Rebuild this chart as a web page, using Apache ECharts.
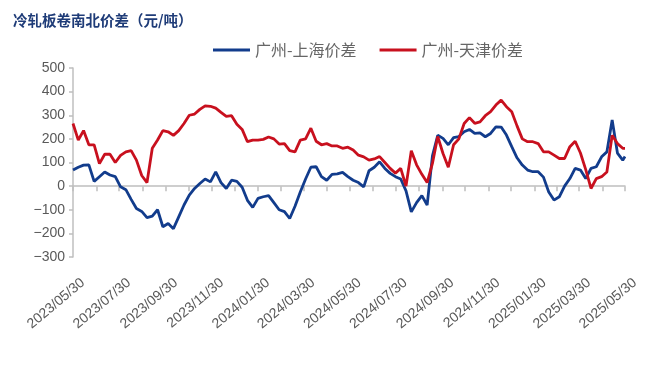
<!DOCTYPE html>
<html>
<head>
<meta charset="utf-8">
<script src="https://cdn.jsdelivr.net/npm/echarts@6/dist/echarts.min.js"></script>
<style>
html,body{margin:0;padding:0;background:#fff;}
#chart{width:660px;height:382px;}
</style>
</head>
<body>
<div id="chart"></div>
<script>
// Weekly observation dates
const dates = [
'2023-05-30','2023-06-06','2023-06-13','2023-06-20','2023-06-27','2023-07-04','2023-07-11','2023-07-18','2023-07-25','2023-08-01',
'2023-08-08','2023-08-15','2023-08-22','2023-08-29','2023-09-05','2023-09-12','2023-09-19','2023-09-26','2023-10-03','2023-10-10',
'2023-10-17','2023-10-24','2023-10-31','2023-11-07','2023-11-14','2023-11-21','2023-11-28','2023-12-05','2023-12-12','2023-12-19',
'2023-12-26','2024-01-02','2024-01-09','2024-01-16','2024-01-23','2024-01-30','2024-02-06','2024-02-13','2024-02-20','2024-02-27',
'2024-03-05','2024-03-12','2024-03-19','2024-03-26','2024-04-02','2024-04-09','2024-04-16','2024-04-23','2024-04-30','2024-05-07',
'2024-05-14','2024-05-21','2024-05-28','2024-06-04','2024-06-11','2024-06-18','2024-06-25','2024-07-02','2024-07-09','2024-07-16',
'2024-07-23','2024-07-30','2024-08-06','2024-08-13','2024-08-20','2024-08-27','2024-09-03','2024-09-10','2024-09-17','2024-09-24',
'2024-10-01','2024-10-08','2024-10-15','2024-10-22','2024-10-29','2024-11-05','2024-11-12','2024-11-19','2024-11-26','2024-12-03',
'2024-12-10','2024-12-17','2024-12-24','2024-12-31','2025-01-07','2025-01-14','2025-01-21','2025-01-28','2025-02-04','2025-02-11',
'2025-02-18','2025-02-25','2025-03-04','2025-03-11','2025-03-18','2025-03-25','2025-04-01','2025-04-08','2025-04-15','2025-04-22',
'2025-04-29','2025-05-06','2025-05-13','2025-05-20','2025-05-27','2025-05-30'
];

// 广州-上海价差 (元/吨)
const gzShanghai = [
68,80,89,90,20,40,60,47,40,-3,
-15,-56,-95,-107,-133,-127,-100,-172,-158,-180,
-130,-80,-38,-10,11,30,18,60,15,-10,
25,20,-5,-60,-90,-52,-45,-40,-70,-100,
-108,-137,-85,-25,30,80,82,40,25,50,
52,58,40,25,15,-3,65,80,103,75,
54,40,30,-20,-109,-70,-40,-80,128,215,
202,175,205,210,230,240,223,225,209,223,
251,250,216,167,120,89,68,61,61,38,
-25,-59,-45,0,32,75,68,32,75,82,
124,145,280,140,110,125
];

// 广州-天津价差 (元/吨)
const gzTianjin = [
265,195,235,175,175,95,135,135,100,130,
145,150,110,45,15,160,195,235,230,215,
235,265,300,305,325,340,338,330,312,295,
298,262,240,188,195,195,198,208,200,178,
180,150,145,195,200,245,190,175,180,170,
170,160,165,153,131,124,110,115,125,100,
75,55,75,0,150,90,50,15,96,210,
138,80,175,200,265,290,266,272,298,315,
343,364,336,315,255,200,188,188,180,145,
145,131,117,117,167,190,140,70,-10,32,
40,60,215,180,160,160
];

// Axis tick / label dates
const xLabelDates = [
'2023-05-30','2023-07-30','2023-09-30','2023-11-30','2024-01-30','2024-03-30','2024-05-30',
'2024-07-30','2024-09-30','2024-11-30','2025-01-30','2025-03-30','2025-05-30'
];
const xTickDates = [
'2023-05-30','2023-06-30','2023-07-30','2023-08-30','2023-09-30','2023-10-30','2023-11-30','2023-12-30',
'2024-01-30','2024-02-29','2024-03-30','2024-04-30','2024-05-30','2024-06-30','2024-07-30','2024-08-30',
'2024-09-30','2024-10-30','2024-11-30','2024-12-30','2025-01-30','2025-02-28','2025-03-30','2025-04-30','2025-05-30'
];
const yMin = -300, yMax = 500, yStep = 100;
const seriesNames = ['广州-上海价差', '广州-天津价差'];

function ts(s) { const p = s.split('-').map(Number); return new Date(p[0], p[1] - 1, p[2]).getTime(); }
function fmt(v) {
  const d = new Date(v);
  const mm = String(d.getMonth() + 1).padStart(2, '0');
  const dd = String(d.getDate()).padStart(2, '0');
  return d.getFullYear() + '/' + mm + '/' + dd;
}

const xStart = ts('2023-05-30'), xEnd = ts('2025-05-30');
const axisGray = '#BFBFBF';
const textGray = '#595959';

const chart = echarts.init(document.getElementById('chart'), null, {renderer: 'canvas'});
chart.setOption({
  animation: false,
  backgroundColor: '#ffffff',
  title: {
    text: '冷轧板卷南北价差（元/吨）',
    left: 13, top: 13, padding: 0,
    textStyle: {fontFamily: '"Noto Sans CJK SC"', fontSize: 14.5, fontWeight: 'bold', color: '#1F3C78'}
  },
  legend: {
    left: 213, top: 42, padding: 0,
    itemWidth: 37, itemHeight: 3, itemGap: 23,
    icon: 'rect',
    data: seriesNames,
    textStyle: {fontFamily: '"Noto Sans CJK SC"', fontSize: 16, color: '#666666'}
  },
  grid: [
    {left: 73, right: 35, top: 68, bottom: 125, outerBoundsMode: 'none', containLabel: false},
    {left: 83, right: 25, top: 68, bottom: 125, outerBoundsMode: 'none', containLabel: false}
  ],
  xAxis: [
    {
      type: 'value', gridIndex: 0, min: xStart, max: xEnd, scale: true,
      axisLine: {show: true, onZero: true, lineStyle: {color: axisGray, width: 1.5}},
      axisTick: {show: true, length: 5, lineStyle: {color: axisGray, width: 1.5}, customValues: xTickDates.map(ts)},
      axisLabel: {show: false},
      splitLine: {show: false}
    },
    {
      type: 'value', gridIndex: 1, min: xStart, max: xEnd, scale: true,
      axisLine: {show: false, onZero: false},
      axisTick: {show: false},
      splitLine: {show: false},
      axisLabel: {
        show: true, rotate: 40, margin: 24,
        customValues: xLabelDates.map(ts),
        formatter: function (v) { return fmt(v); },
        fontFamily: '"Liberation Sans", Arial, sans-serif', fontSize: 14, color: textGray
      }
    }
  ],
  yAxis: [
    {
      type: 'value', gridIndex: 0, min: yMin, max: yMax, interval: yStep,
      axisLine: {show: true, lineStyle: {color: axisGray, width: 1.5}},
      axisTick: {show: true, length: 4, lineStyle: {color: axisGray, width: 1.5}},
      splitLine: {show: false},
      axisLabel: {
        margin: 8, fontFamily: '"Liberation Sans", Arial, sans-serif', fontSize: 14, color: textGray,
        formatter: function (v) { return v < 0 ? '\u2212' + Math.abs(v) : String(v); }
      }
    },
    {type: 'value', gridIndex: 1, min: yMin, max: yMax, show: false}
  ],
  series: [
    {
      name: seriesNames[0], type: 'line', xAxisIndex: 0, yAxisIndex: 0,
      showSymbol: false, symbol: 'none',
      lineStyle: {color: '#123C8C', width: 2.8},
      itemStyle: {color: '#123C8C'},
      data: dates.map(function (d, i) { return [ts(d), gzShanghai[i]]; })
    },
    {
      name: seriesNames[1], type: 'line', xAxisIndex: 0, yAxisIndex: 0,
      showSymbol: false, symbol: 'none',
      lineStyle: {color: '#C8101E', width: 2.8},
      itemStyle: {color: '#C8101E'},
      data: dates.map(function (d, i) { return [ts(d), gzTianjin[i]]; })
    }
  ]
});
</script>
</body>
</html>
